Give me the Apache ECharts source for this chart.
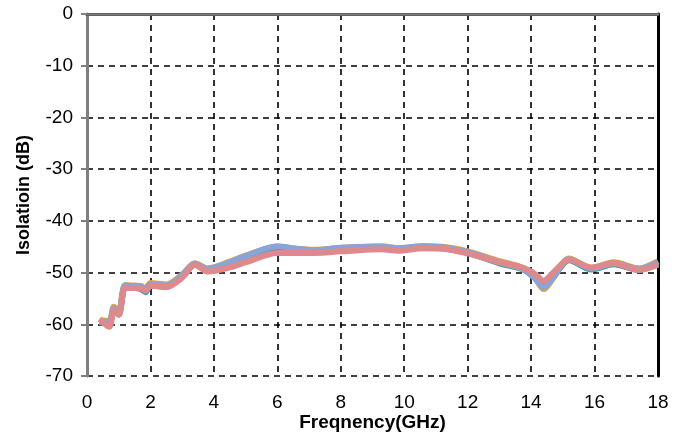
<!DOCTYPE html>
<html>
<head>
<meta charset="utf-8">
<script src="https://cdn.jsdelivr.net/npm/echarts@6/dist/echarts.min.js"></script>
<style>
  html, body { margin: 0; padding: 0; background: #fff; }
  #chart { width: 692px; height: 434px; }
</style>
</head>
<body>
<div id="chart"></div>
<script>
// frequency points (GHz)
const freq = [0.4, 0.7, 0.85, 1.0, 1.2, 1.4, 1.7, 1.85, 2.0, 2.5, 3.0, 3.4, 3.8, 4.5, 5.0, 6.0, 6.6, 7.2, 8.0, 9.3, 9.8, 10.6, 11.2, 12.0, 13.0, 13.7, 14.1, 14.4, 14.7, 15.2, 15.9, 16.6, 17.4, 18.0]

// isolation traces (dB)
const isoOrange = [-59.2, -59.3, -56.6, -57.4, -52.4, -52.5, -52.6, -53.1, -52.0, -52.3, -50.4, -48.2, -49.2, -47.9, -46.7, -45.0, -45.4, -45.6, -45.2, -44.9, -45.3, -44.9, -45.0, -45.9, -47.8, -49.0, -50.9, -53.2, -51.0, -47.3, -49.1, -48.0, -49.2, -47.8]
const isoGray = [-59.4, -59.6, -56.9, -57.7, -52.6, -52.7, -52.9, -53.4, -52.3, -52.6, -50.6, -48.4, -49.4, -48.1, -46.9, -45.1, -45.5, -45.8, -45.3, -45.1, -45.4, -45.0, -45.2, -46.1, -48.0, -49.1, -50.8, -52.9, -50.9, -47.5, -49.3, -48.3, -49.4, -48.1]
const isoTeal = [-59.6, -59.8, -57.2, -58.1, -52.8, -52.9, -53.2, -53.8, -52.5, -52.8, -50.8, -48.5, -49.6, -48.3, -47.0, -45.2, -45.6, -45.9, -45.4, -45.2, -45.5, -45.1, -45.3, -46.2, -48.2, -49.3, -50.6, -52.5, -50.7, -47.6, -49.4, -48.4, -49.5, -48.3]
const isoBlue = [-59.5, -59.6, -57.0, -57.8, -52.5, -52.6, -52.8, -53.3, -52.2, -52.5, -50.5, -48.3, -49.3, -48.0, -46.8, -44.9, -45.4, -45.7, -45.2, -45.0, -45.3, -44.9, -45.1, -46.0, -48.0, -49.2, -51.0, -52.8, -50.8, -47.4, -49.2, -48.2, -49.3, -48.0]
const isoRed = [-59.0, -60.5, -57.3, -58.2, -53.0, -53.0, -53.0, -53.5, -52.5, -52.8, -51.0, -48.5, -49.8, -49.0, -48.0, -46.2, -46.2, -46.2, -45.9, -45.5, -45.8, -45.3, -45.4, -46.3, -48.0, -49.0, -50.2, -51.6, -50.0, -47.5, -49.0, -48.2, -49.5, -48.5]

const xTicks = [0, 2, 4, 6, 8, 10, 12, 14, 16, 18]
const yTicks = [0, -10, -20, -30, -40, -50, -60, -70]

const traces = [
  { data: isoOrange, color: '#eaa03c' },
  { data: isoGray, color: '#a5a5a5' },
  { data: isoTeal, color: '#3a9fb0' },
  { data: isoBlue, color: '#88a4d8' },
  { data: isoRed, color: '#de8a8c' }
]

const chart = echarts.init(document.getElementById('chart'))
const font = 'Liberation Sans, Arial, sans-serif'
const dash = { type: [6, 5], color: '#000', width: 1.6 }

const option = {
  animation: false,
  grid: { left: 87, right: 34, top: 14, bottom: 58, containLabel: false, outerBoundsMode: 'none' },
  xAxis: [
    {
      type: 'value', min: 0, max: 18, interval: 2,
      name: 'Freqnency(GHz)', nameLocation: 'middle', nameGap: 37, nameMoveOverlap: false,
      nameTextStyle: { fontFamily: font, fontSize: 19, fontWeight: 'bold', color: '#000' },
      axisLine: { show: true, lineStyle: { color: '#000', width: 3 } },
      axisTick: { show: false },
      axisLabel: { fontFamily: font, fontSize: 19, color: '#000', margin: 17 },
      splitLine: { show: true, lineStyle: dash }
    },
    {
      type: 'value', min: 0, max: 18, position: 'top',
      axisLine: { show: true, onZero: false, lineStyle: { color: '#7f7f7f', width: 2.5 } },
      axisTick: { show: false }, axisLabel: { show: false }, splitLine: { show: false }
    }
  ],
  yAxis: [
    {
      type: 'value', min: -70, max: 0, interval: 10,
      name: 'Isolatioin (dB)', nameLocation: 'middle', nameGap: 54, nameRotate: 90, nameMoveOverlap: false,
      nameTextStyle: { fontFamily: font, fontSize: 18, fontWeight: 'bold', color: '#000' },
      axisLine: { show: true, onZero: false, lineStyle: { color: '#7f7f7f', width: 3 } },
      axisTick: { show: true, length: 6, lineStyle: { color: '#7f7f7f', width: 2 } },
      axisLabel: { fontFamily: font, fontSize: 19, color: '#000', margin: 14 },
      splitLine: { show: true, lineStyle: dash }
    },
    {
      type: 'value', min: -70, max: 0, position: 'right',
      axisLine: { show: true, onZero: false, lineStyle: { color: '#000', width: 3 } },
      axisTick: { show: false }, axisLabel: { show: false }, splitLine: { show: false }
    }
  ],
  series: traces.map(t => ({
    type: 'line',
    smooth: 0.3,
    symbol: 'none',
    lineStyle: { color: t.color, width: 6 },
    data: freq.map((f, i) => [f, t.data[i]])
  }))
}
chart.setOption(option)
</script>
</body>
</html>
